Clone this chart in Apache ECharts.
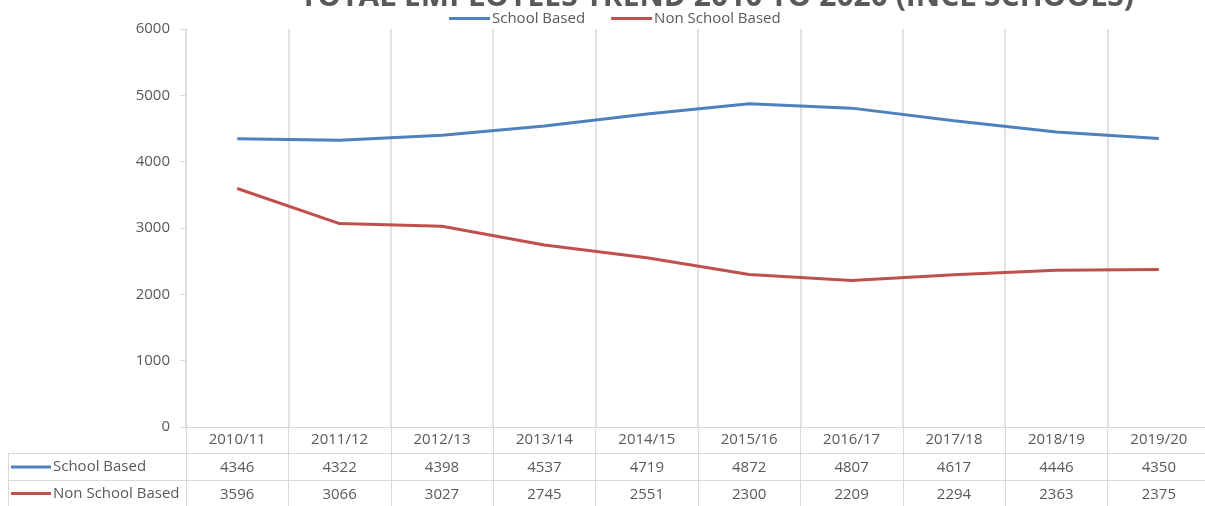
<!DOCTYPE html>
<html>
<head>
<meta charset="utf-8">
<script src="https://cdn.jsdelivr.net/npm/echarts@6/dist/echarts.min.js"></script>
<style>
html,body{margin:0;padding:0;background:#fff;}
#chart{width:1205px;height:506px;}
</style>
</head>
<body>
<div id="chart"></div>
<script>
const titleText = 'TOTAL EMPLOYEES TREND 2010 TO 2020 (INCL SCHOOLS)';
const categories = ['2010/11','2011/12','2012/13','2013/14','2014/15','2015/16','2016/17','2017/18','2018/19','2019/20'];
const schoolBased = [4346,4322,4398,4537,4719,4872,4807,4617,4446,4350];
const nonSchoolBased = [3596,3066,3027,2745,2551,2300,2209,2294,2363,2375];
const seriesNames = ['School Based','Non School Based'];
const seriesColors = ['#4F81BD','#C0504D'];
const yTicks = {min:0, max:6000, interval:1000};

const FONT = '"Open Sans", sans-serif';
const GREY = '#595959';
const LINE = '#D9D9D9';

const chart = echarts.init(document.getElementById('chart'), null, {renderer:'canvas'});

const gridLeft = 186, gridTop = 29, gridBottom = 79, gridWidth = 1024;
const rowH = 26.5;

function tableAxis(values, offset){
  return {
    type:'category', data:categories, gridIndex:0, position:'bottom', offset:offset,
    boundaryGap:true,
    axisLine:{show:false},
    axisTick:{show:false},
    splitLine:{show:false},
    axisLabel:{show:true, interval:0, margin:7, color:GREY, fontSize:15, fontFamily:FONT,
      formatter:(v,i)=>String(values[i])}
  };
}

const graphics = [];
[453.5, 480.5].forEach(y=>{
  graphics.push({type:'line', shape:{x1:8,y1:y,x2:1205,y2:y}, style:{stroke:LINE,lineWidth:1}, silent:true});
});
graphics.push({type:'line', shape:{x1:8.5,y1:453,x2:8.5,y2:506}, style:{stroke:LINE,lineWidth:1}, silent:true});
seriesNames.forEach((n,k)=>{
  const cy = 467 + k*rowH;
  graphics.push({type:'line', shape:{x1:11,y1:cy,x2:51,y2:cy}, style:{stroke:seriesColors[k],lineWidth:3}, silent:true});
  graphics.push({type:'text', x:53, y:cy, style:{text:n, fill:GREY, font:'15px '+FONT, textVerticalAlign:'middle', verticalAlign:'middle'}, silent:true});
});

const option = {
  backgroundColor:'#fff',
  animation:false,
  title:{
    text:titleText, left:295, top:-23,
    textStyle:{fontFamily:FONT, fontSize:30, fontWeight:'bold', color:GREY}
  },
  legend:{
    top:6, left:444, itemWidth:41, itemHeight:3, itemGap:26,
    icon:'rect',
    textStyle:{fontFamily:FONT, fontSize:15, color:GREY, padding:[0,0,0,-3]},
    data:seriesNames
  },
  grid:{left:gridLeft, top:gridTop, bottom:gridBottom, width:gridWidth, containLabel:false, outerBoundsMode:'none'},
  xAxis:[
    {
      type:'category', data:categories, boundaryGap:true,
      axisLine:{show:true, lineStyle:{color:LINE, width:1}},
      axisTick:{show:true, interval:0, length:80, lineStyle:{color:LINE, width:1}},
      splitLine:{show:true, interval:0, lineStyle:{color:LINE, width:1.5}},
      axisLabel:{interval:0, margin:5, color:GREY, fontSize:15, fontFamily:FONT}
    },
    tableAxis(schoolBased, rowH),
    tableAxis(nonSchoolBased, rowH*2)
  ],
  yAxis:{
    type:'value', min:yTicks.min, max:yTicks.max, interval:yTicks.interval,
    axisLine:{show:true, lineStyle:{color:LINE, width:1}},
    axisTick:{show:true, length:6, lineStyle:{color:LINE}},
    splitLine:{show:false},
    axisLabel:{margin:16, color:GREY, fontSize:15, fontFamily:FONT, formatter:v=>String(v)}
  },
  series:[
    {name:seriesNames[0], type:'line', data:schoolBased, symbol:'none', lineStyle:{color:seriesColors[0], width:3}, itemStyle:{color:seriesColors[0]}},
    {name:seriesNames[1], type:'line', data:nonSchoolBased, symbol:'none', lineStyle:{color:seriesColors[1], width:3}, itemStyle:{color:seriesColors[1]}}
  ],
  graphic:graphics
};
chart.setOption(option);
</script>
</body>
</html>
